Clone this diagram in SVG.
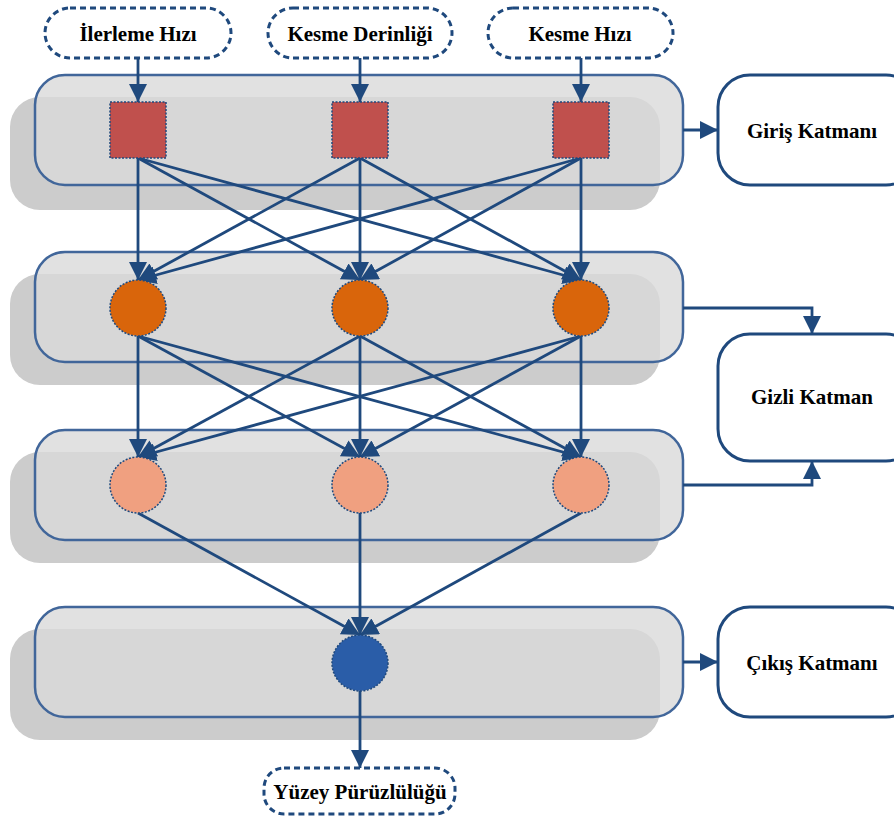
<svg xmlns="http://www.w3.org/2000/svg" width="894" height="816" viewBox="0 0 894 816">
<defs>
<style>
.shadow{fill:#CCCCCC}
.layer{fill:#D9D9D9;fill-opacity:0.8;stroke:#41669A;stroke-width:2.5}
.io{fill:#fff;stroke:#1F497D;stroke-width:3;stroke-dasharray:6 4}
.side{fill:#fff;stroke:#1F497D;stroke-width:3}
.node{stroke:#1F497D;stroke-width:1.5;stroke-dasharray:2 1.5}
.sq{fill:#C0504D}
.h1{fill:#D9650B}
.h2{fill:#F0A080}
.out{fill:#2A5DA8}
.c{fill:none;stroke:#1F497D;stroke-width:2.8;marker-end:url(#ah)}
text{font-family:"Liberation Serif","Times New Roman",serif;font-weight:bold;font-size:21px;fill:#000;text-anchor:middle;dominant-baseline:central}
</style>
<marker id="ah" markerUnits="userSpaceOnUse" markerWidth="18" markerHeight="18" refX="18" refY="9" orient="auto">
<path d="M0,0 L18,9 L0,18 z" fill="#1F497D"/>
</marker>
</defs>
<rect width="894" height="816" fill="#fff"/>
<g id="layers">
<rect class="shadow" x="10" y="97" width="650" height="113" rx="30"/>
<rect class="layer" x="35" y="75" width="648" height="110" rx="30"/>
<rect class="shadow" x="10" y="274" width="650" height="111" rx="30"/>
<rect class="layer" x="35" y="252" width="648" height="110" rx="30"/>
<rect class="shadow" x="10" y="452" width="650" height="111" rx="30"/>
<rect class="layer" x="35" y="430" width="648" height="110" rx="30"/>
<rect class="shadow" x="10" y="629" width="650" height="111" rx="30"/>
<rect class="layer" x="35" y="607" width="648" height="110" rx="30"/>
</g>
<g id="connectors">
<line class="c" x1="138" y1="58" x2="138" y2="102"/>
<line class="c" x1="360" y1="58" x2="360" y2="102"/>
<line class="c" x1="581" y1="58" x2="581" y2="102"/>
<line class="c" x1="138" y1="158" x2="138" y2="280"/>
<line class="c" x1="138" y1="158" x2="360" y2="280"/>
<line class="c" x1="138" y1="158" x2="581" y2="280"/>
<line class="c" x1="360" y1="158" x2="138" y2="280"/>
<line class="c" x1="360" y1="158" x2="360" y2="280"/>
<line class="c" x1="360" y1="158" x2="581" y2="280"/>
<line class="c" x1="581" y1="158" x2="138" y2="280"/>
<line class="c" x1="581" y1="158" x2="360" y2="280"/>
<line class="c" x1="581" y1="158" x2="581" y2="280"/>
<line class="c" x1="138" y1="336" x2="138" y2="457"/>
<line class="c" x1="138" y1="336" x2="360" y2="457"/>
<line class="c" x1="138" y1="336" x2="581" y2="457"/>
<line class="c" x1="360" y1="336" x2="138" y2="457"/>
<line class="c" x1="360" y1="336" x2="360" y2="457"/>
<line class="c" x1="360" y1="336" x2="581" y2="457"/>
<line class="c" x1="581" y1="336" x2="138" y2="457"/>
<line class="c" x1="581" y1="336" x2="360" y2="457"/>
<line class="c" x1="581" y1="336" x2="581" y2="457"/>
<line class="c" x1="138" y1="513" x2="360" y2="635"/>
<line class="c" x1="360" y1="513" x2="360" y2="635"/>
<line class="c" x1="581" y1="513" x2="360" y2="635"/>
<line class="c" x1="360" y1="691" x2="360" y2="768"/>
<line class="c" x1="683" y1="130" x2="718" y2="130"/>
<polyline class="c" points="683,308 812,308 812,334"/>
<polyline class="c" points="683,485 812,485 812,461"/>
<line class="c" x1="683" y1="662" x2="718" y2="662"/>
</g>
<g id="in1"><rect class="io" x="45" y="8" width="186" height="50" rx="25"/><text x="138" y="34">İlerleme Hızı</text></g>
<g id="in2"><rect class="io" x="268" y="8" width="184" height="50" rx="25"/><text x="360" y="34">Kesme Derinliği</text></g>
<g id="in3"><rect class="io" x="488" y="8" width="185" height="50" rx="25"/><text x="580" y="34">Kesme Hızı</text></g>
<g id="outlabel"><rect class="io" x="264" y="768" width="191" height="46" rx="20"/><text x="360" y="792">Yüzey Pürüzlülüğü</text></g>
<g id="sq1"><rect class="node sq" x="110" y="102" width="56" height="56"/></g>
<g id="sq2"><rect class="node sq" x="332" y="102" width="56" height="56"/></g>
<g id="sq3"><rect class="node sq" x="553" y="102" width="56" height="56"/></g>
<g id="h1a"><circle class="node h1" cx="138" cy="308" r="28"/></g>
<g id="h1b"><circle class="node h1" cx="360" cy="308" r="28"/></g>
<g id="h1c"><circle class="node h1" cx="581" cy="308" r="28"/></g>
<g id="h2a"><circle class="node h2" cx="138" cy="485" r="28"/></g>
<g id="h2b"><circle class="node h2" cx="360" cy="485" r="28"/></g>
<g id="h2c"><circle class="node h2" cx="581" cy="485" r="28"/></g>
<g id="o1"><circle class="node out" cx="360" cy="663" r="28"/></g>
<g id="giris"><rect class="side" x="718" y="75" width="200" height="110" rx="32"/><text x="812" y="131">Giriş Katmanı</text></g>
<g id="gizli"><rect class="side" x="718" y="334" width="200" height="127" rx="32"/><text x="812" y="397">Gizli Katman</text></g>
<g id="cikis"><rect class="side" x="718" y="607" width="200" height="110" rx="32"/><text x="812" y="663">Çıkış Katmanı</text></g>
</svg>
